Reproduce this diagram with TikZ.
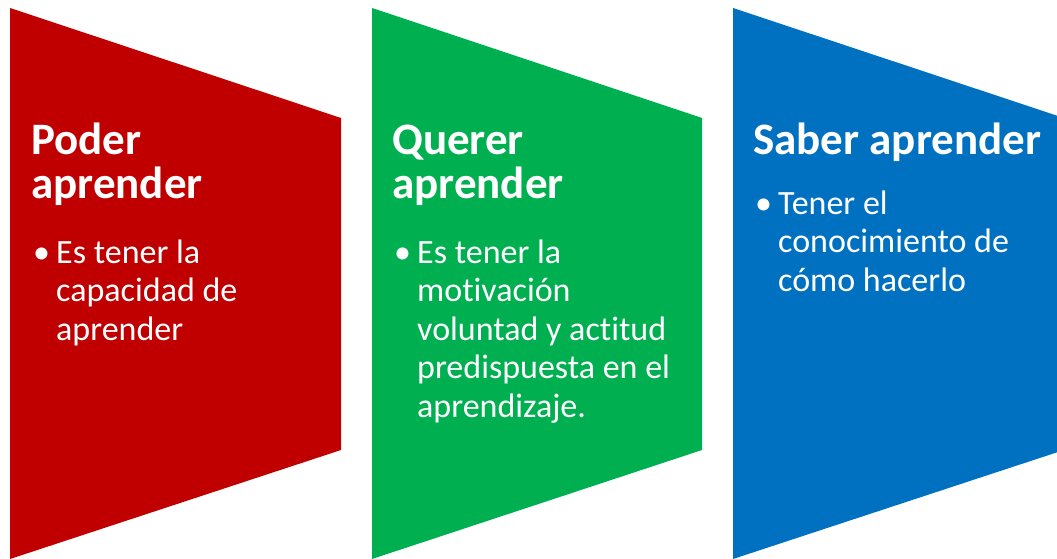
\documentclass[tikz,border=0pt]{standalone}
\usepackage{fontspec}
\setmainfont{Carlito}[RawFeature={-liga,-clig,-dlig}]
\definecolor{cred}{HTML}{C00000}
\definecolor{cgreen}{HTML}{00B050}
\definecolor{cblue}{HTML}{0070C0}
\tikzset{
  title/.style={anchor=base west, inner sep=0pt, text=white, font=\fontsize{45}{44}\selectfont\bfseries},
  body/.style={anchor=base west, inner sep=0pt, text=white, font=\fontsize{34}{38.5}\selectfont},
}
\begin{document}
\begin{tikzpicture}[x=1pt,y=-1pt]
\useasboundingbox (0,0) rectangle (1057,559);
\clip (0,0) rectangle (1057,559);
\fill[cred]   (10,8)  -- (341,118)  -- (341,450)  -- (10,559)  -- cycle;
\fill[cgreen] (372,8) -- (702,118)  -- (702,450)  -- (372,559) -- cycle;
\fill[cblue]  (733,8) -- (1064,118) -- (1064,450) -- (733,559) -- cycle;
% red
\node[title] (t1a) at (31,154) {Poder};
\node[title] (t1b) at (31,198) {aprender};
\node[body] (b1) at (33,263) {•};
\node[body] (l1a) at (56,263) {Es tener la};
\node[body] (l1b) at (56,301.5) {capacidad de};
\node[body] (l1c) at (56,340) {aprender};
% green
\node[title] (t2a) at (392,154) {Querer};
\node[title] (t2b) at (392,198) {aprender};
\node[body] (b2) at (394,263) {•};
\node[body] (l2a) at (417,263) {Es tener la};
\node[body] (l2b) at (417,301.5) {motivación};
\node[body] (l2c) at (417,340) {voluntad y actitud};
\node[body] (l2d) at (417,378.5) {predispuesta en el};
\node[body] (l2e) at (417,417) {aprendizaje.};
% blue
\node[title] (t3a) at (753,154) {Saber aprender};
\node[body] (b3) at (755,214) {•};
\node[body] (l3a) at (778,214) {Tener el};
\node[body] (l3b) at (778,252.5) {conocimiento de};
\node[body] (l3c) at (778,291) {cómo hacerlo};
\end{tikzpicture}
\end{document}
